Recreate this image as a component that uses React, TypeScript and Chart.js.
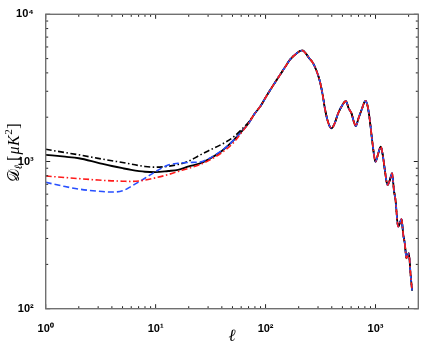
import React, { useEffect, useRef } from 'react';
import { Chart, registerables } from 'chart.js';

Chart.register(...registerables);

// multipole values for the low-ell part (each model differs here)
const ellLow = [1, 1.5, 2, 3, 4, 5, 6, 8, 10, 13, 16, 20, 25, 30, 40, 50, 60, 70];
const solidLow = [1110, 1078, 1052, 980, 932, 900, 877, 852, 847, 862, 878, 926, 968, 1030, 1180, 1370, 1590, 1820];
const dashDotLow = [1210, 1150, 1110, 1050, 1012, 985, 960, 925, 915, 928, 955, 1005, 1100, 1180, 1310, 1450, 1640, 1850];
const redLow = [797, 778, 765, 748, 739, 735, 732, 748, 775, 815, 855, 900, 950, 1010, 1150, 1320, 1560, 1820];
const blueLow = [722, 676, 650, 628, 620, 632, 678, 770, 855, 945, 972, 985, 990, 1040, 1190, 1370, 1580, 1810];

// shared acoustic-peak part (all models coincide)
const ellHigh = [80, 90, 100, 126, 150, 166, 190, 215, 250, 271, 290, 312, 330, 346, 371, 398, 425, 457, 500, 537, 570, 605, 635, 662, 700, 746, 811, 850, 887, 939, 1000, 1060, 1117, 1170, 1216, 1285, 1350, 1416, 1470, 1520, 1606, 1660, 1723, 1790, 1846, 1914, 2010, 2080, 2150];
const dHigh = [2125, 2380, 2720, 3578, 4360, 4898, 5400, 5680, 5023, 4645, 4150, 3500, 2860, 2300, 1840, 1681, 1817, 2122, 2421, 2577, 2296, 2122, 1862, 1742, 1963, 2238, 2580, 2356, 1914, 1330, 997, 1137, 1260, 1079, 875, 693, 748, 832, 640, 547, 361, 380, 406, 316, 278, 220, 238, 174, 133];

const xMin = 1;
const xMax = 2450;
const yMin = 100;
const yMax = 10000;

const powLabels: Record<number, string> = { 1: '10⁰', 10: '10¹', 100: '10²', 1000: '10³', 10000: '10⁴' };

function logTicks(min: number, max: number): number[] {
  const out: number[] = [];
  for (let d = 0; d <= 4; d++) {
    for (let m = 1; m <= 9; m++) {
      const v = m * Math.pow(10, d);
      if (v >= min - 1e-9 && v <= max + 1e-9) out.push(v);
    }
  }
  return out;
}
const xTickVals = logTicks(xMin, xMax);
const yTickVals = logTicks(yMin, yMax);
const isPow10 = (v: number) => Math.abs(Math.log10(v) - Math.round(Math.log10(v))) < 1e-9;

const tickFont = { family: '"Liberation Sans", Arial, sans-serif', size: 11, weight: 'bold' as const };

const framePlugin = {
  id: 'frame',
  afterDraw(chart: any) {
    const { ctx, chartArea: a, scales } = chart;
    ctx.save();
    // inward ticks on all four sides
    ctx.strokeStyle = '#222';
    ctx.lineWidth = 1;
    ctx.beginPath();
    for (const v of xTickVals) {
      const px = scales.x.getPixelForValue(v);
      const len = isPow10(v) ? 4.5 : 2.5;
      ctx.moveTo(px, a.bottom); ctx.lineTo(px, a.bottom - len);
      ctx.moveTo(px, a.top); ctx.lineTo(px, a.top + len);
    }
    for (const v of yTickVals) {
      const py = scales.y.getPixelForValue(v);
      const len = isPow10(v) ? 4.5 : 2.5;
      ctx.moveTo(a.left, py); ctx.lineTo(a.left + len, py);
      ctx.moveTo(a.right, py); ctx.lineTo(a.right - len, py);
    }
    ctx.stroke();
    // box
    ctx.strokeStyle = '#707070';
    ctx.lineWidth = 1.4;
    ctx.strokeRect(a.left, a.top, a.right - a.left, a.bottom - a.top);

    // x title
    ctx.fillStyle = '#000';
    ctx.font = 'italic 17px "Liberation Serif", "DejaVu Serif", serif';
    ctx.textAlign = 'center';
    ctx.textBaseline = 'middle';
    ctx.fillText('ℓ', (a.left + a.right) / 2, 337);

    // y title, rotated, built from pieces
    const pieces: { t: string; f: string; dy: number; gap: number }[] = [
      { t: '𝒟', f: '16px "DejaVu Serif", "Liberation Serif", serif', dy: 0, gap: 0 },
      { t: 'ℓ', f: 'italic 11px "Liberation Serif", serif', dy: 4, gap: 4 },
      { t: '[', f: '16px "Liberation Serif", serif', dy: 0, gap: 1 },
      { t: 'μ', f: 'italic 16px "Liberation Serif", serif', dy: 0, gap: 0.5 },
      { t: 'K', f: 'italic 16px "Liberation Serif", serif', dy: 0, gap: 0.5 },
      { t: '2', f: '11px "Liberation Serif", serif', dy: -6, gap: 0.5 },
      { t: ']', f: '16px "Liberation Serif", serif', dy: 0, gap: 0 },
    ];
    let total = 0;
    const widths = pieces.map((p) => { ctx.font = p.f; const w = ctx.measureText(p.t).width + p.gap; total += w; return w; });
    ctx.translate(15, 153);
    ctx.rotate(-Math.PI / 2);
    ctx.textAlign = 'left';
    ctx.textBaseline = 'middle';
    let cx = -total / 2;
    pieces.forEach((p, i) => {
      ctx.font = p.f;
      ctx.fillText(p.t, cx, p.dy);
      cx += widths[i];
    });
    ctx.restore();
  },
};

function series(low: number[]) {
  return [
    ...ellLow.map((l, i) => ({ x: l, y: low[i] })),
    ...ellHigh.map((l, i) => ({ x: l, y: dHigh[i] })),
  ];
}

export default function App() {
  const ref = useRef<HTMLCanvasElement>(null);
  useEffect(() => {
    const canvas = ref.current;
    if (!canvas) return;
    const chart = new Chart(canvas, {
      type: 'line',
      data: {
        datasets: [
          { label: 'red dash-dot', data: series(redLow), borderColor: '#ff1a1a', borderWidth: 1.6, borderDash: [6, 2.5, 1.5, 2.5] },
          { label: 'blue dashed', data: series(blueLow), borderColor: '#2850ff', borderWidth: 1.6, borderDash: [6, 3] },
          { label: 'black dash-dot', data: series(dashDotLow), borderColor: '#000000', borderWidth: 1.6, borderDash: [6, 2.5, 1.5, 2.5] },
          { label: 'black solid', data: series(solidLow), borderColor: '#000000', borderWidth: 1.8 },
        ],
      },
      options: {
        responsive: false,
        animation: false,
        devicePixelRatio: 1,
        parsing: false as any,
        layout: { padding: { left: 0, right: 3.7, top: 14.3, bottom: 0 } },
        plugins: { legend: { display: false }, tooltip: { enabled: false } },
        elements: { point: { radius: 0 }, line: { cubicInterpolationMode: 'monotone', fill: false } },
        scales: {
          x: {
            type: 'logarithmic',
            min: xMin,
            max: xMax,
            grid: { display: false },
            border: { display: false },
            afterBuildTicks: (s: any) => { s.ticks = xTickVals.map((v) => ({ value: v })); },
            afterFit: (s: any) => { s.height = 36.3; },
            ticks: {
              autoSkip: false,
              maxRotation: 0,
              padding: 6,
              color: '#000',
              font: tickFont,
              callback: (v: any) => powLabels[Number(v)] ?? '',
            },
          },
          y: {
            type: 'logarithmic',
            min: yMin,
            max: yMax,
            grid: { display: false },
            border: { display: false },
            afterBuildTicks: (s: any) => { s.ticks = yTickVals.map((v) => ({ value: v })); },
            afterFit: (s: any) => { s.width = 45.7; },
            ticks: {
              autoSkip: false,
              padding: 4,
              color: '#000',
              font: tickFont,
              callback: (v: any) => powLabels[Number(v)] ?? '',
            },
          },
        },
      },
      plugins: [framePlugin],
    });
    return () => chart.destroy();
  }, []);
  return (
    <div style={{ position: 'absolute', left: 0, top: 0, width: 422, height: 345, background: '#fff' }}>
      <canvas ref={ref} width={422} height={345} style={{ display: 'block' }} />
    </div>
  );
}
